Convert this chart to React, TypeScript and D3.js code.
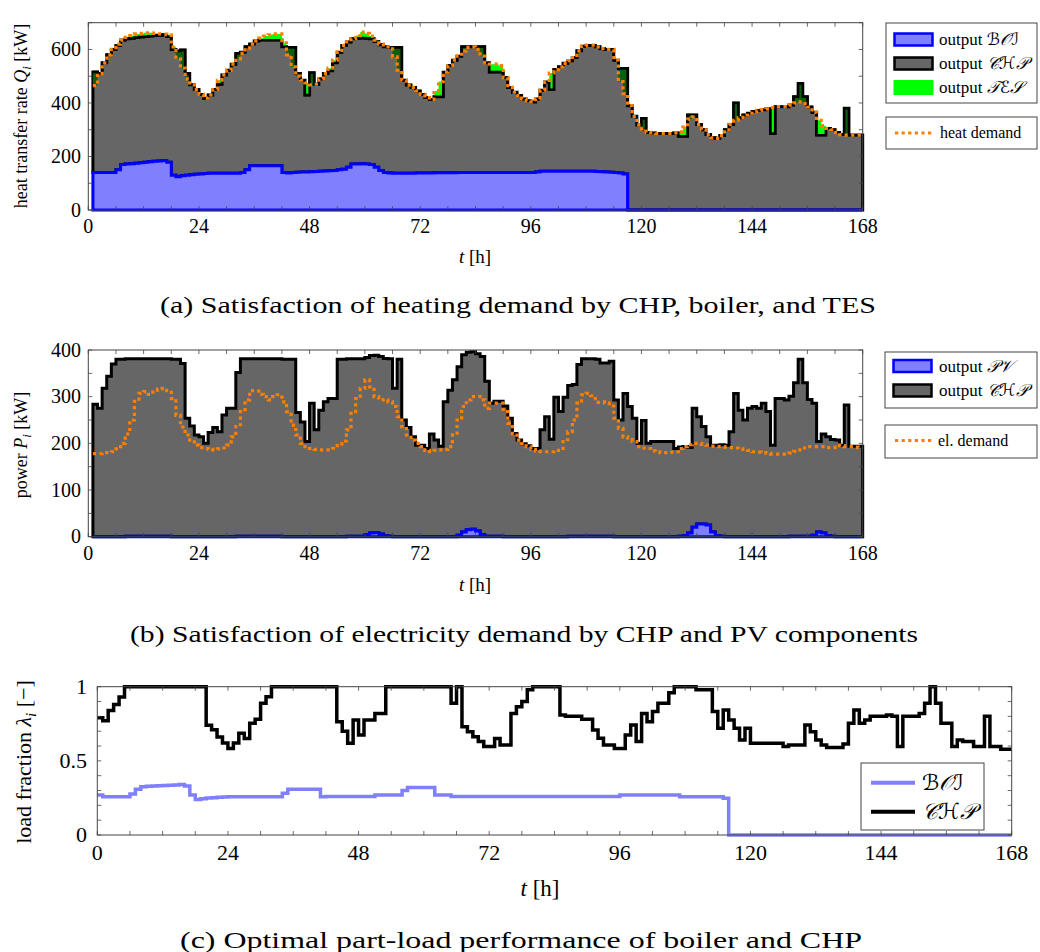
import React from 'react';
import * as d3 from 'd3';

// ---------------- DATA ----------------
// Panels (a) and (b): hourly values for the intervals starting at t = 1 … 167 h
const heatDemand = [
  465, 510, 550, 580, 600, 620, 635, 645, 652, 658, 660, 662, 662, 660, 658, 657, 655, 610, 565, 530,
  490, 468, 450, 432, 418, 430, 450, 485, 505, 522, 545, 565, 585, 605, 620, 632, 642, 650, 655, 658,
  658, 625, 580, 535, 500, 485, 475, 468, 470, 490, 510, 530, 560, 590, 615, 628, 640, 652, 665, 660,
  650, 635, 620, 610, 610, 572, 523, 485, 467, 458, 445, 432, 420, 413, 445, 480, 515, 540, 560, 575,
  595, 608, 610, 600, 575, 550, 545, 545, 540, 495, 458, 440, 428, 415, 408, 404, 415, 448, 478, 512,
  525, 535, 548, 558, 570, 595, 612, 616, 616, 610, 603, 600, 600, 560, 480, 435, 390, 350, 318, 295,
  290, 288, 286, 286, 286, 286, 288, 292, 310, 340, 348, 320, 300, 282, 270, 268, 278, 300, 320, 335,
  345, 355, 362, 368, 372, 375, 378, 383, 386, 386, 386, 392, 400, 404, 398, 385, 365, 335, 315, 305,
  300, 290, 282, 280, 280, 280, 280,
];
const boilerHeat = [
  140, 140, 140, 140, 140, 150, 170, 172, 173, 175, 177, 178, 180, 182, 183, 185, 178, 130, 124, 128,
  130, 132, 134, 135, 136, 137, 137, 137, 137, 137, 137, 137, 140, 150, 165, 165, 165, 165, 165, 165,
  165, 140, 138, 140, 141, 142, 142, 143, 144, 145, 146, 147, 148, 150, 152, 160, 172, 172, 173, 172,
  170, 160, 148, 140, 138, 137, 137, 137, 137, 137, 138, 138, 138, 138, 139, 139, 139, 139, 139, 140,
  140, 140, 140, 140, 140, 140, 140, 140, 140, 140, 140, 140, 140, 140, 140, 140, 142, 145, 145, 145,
  145, 145, 145, 145, 145, 145, 145, 145, 145, 144, 143, 142, 141, 140, 138, 135, 0, 0, 0, 0,
  0, 0, 0, 0, 0, 0, 0, 0, 0, 0, 0, 0, 0, 0, 0, 0, 0, 0, 0, 0,
  0, 0, 0, 0, 0, 0, 0, 0, 0, 0, 0, 0, 0, 0, 0, 0, 0, 0, 0, 0,
  0, 0, 0, 0, 0, 0, 0,
];
const chpHeat = [
  376, 370, 410, 440, 460, 465, 465, 468, 469, 470, 470, 470, 470, 470, 470, 470, 470, 470, 470, 470,
  380, 336, 316, 297, 282, 293, 313, 333, 368, 385, 408, 448, 450, 460, 455, 467, 470, 470, 470, 470,
  470, 470, 469, 467, 369, 343, 288, 370, 326, 345, 364, 373, 402, 440, 463, 468, 468, 470, 470, 470,
  470, 470, 470, 470, 469, 470, 470, 348, 330, 321, 307, 294, 282, 275, 284, 284, 376, 401, 421, 435,
  470, 470, 470, 470, 470, 410, 376, 376, 376, 355, 318, 300, 288, 275, 268, 264, 273, 303, 333, 305,
  380, 390, 403, 413, 425, 450, 467, 470, 470, 466, 460, 458, 459, 420, 391, 394, 390, 350, 318, 342,
  290, 288, 286, 286, 286, 286, 288, 276, 276, 355, 355, 320, 300, 282, 270, 268, 278, 300, 320, 400,
  345, 355, 362, 368, 372, 375, 378, 286, 386, 386, 386, 392, 423, 473, 423, 385, 365, 280, 280, 305,
  300, 290, 282, 380, 280, 280, 280,
];
const elDemand = [
  178, 178, 180, 180, 182, 188, 200, 220, 250, 290, 307, 311, 305, 310, 316, 318, 313, 296, 260, 235,
  218, 207, 196, 191, 189, 187, 186, 188, 190, 196, 214, 236, 268, 293, 313, 312, 305, 300, 293, 300,
  304, 289, 268, 239, 218, 200, 193, 189, 187, 186, 186, 186, 189, 195, 205, 229, 268, 296, 318, 336,
  321, 300, 293, 294, 289, 279, 257, 236, 218, 207, 200, 193, 185, 182, 185, 186, 187, 193, 218, 250,
  279, 293, 300, 300, 293, 275, 286, 286, 286, 268, 243, 221, 207, 200, 193, 187, 184, 182, 182, 182,
  185, 189, 204, 225, 250, 286, 304, 307, 302, 288, 289, 286, 280, 254, 232, 214, 208, 204, 193, 190,
  189, 184, 182, 180, 180, 181, 182, 189, 193, 197, 200, 200, 198, 196, 194, 193, 193, 192, 191, 190,
  188, 187, 185, 182, 181, 180, 179, 177, 177, 177, 177, 179, 183, 186, 190, 193, 193, 193, 193, 191,
  191, 196, 195, 193, 193, 192, 191,
];
const pvPower = [
  0, 0, 0, 0, 0, 0, 0, 1, 1, 1, 1, 1, 1, 1, 1, 1, 1, 0, 0, 0,
  0, 0, 0, 0, 0, 0, 0, 0, 0, 0, 0, 1, 1, 1, 1, 1, 1, 1, 1, 1,
  1, 0, 0, 0, 0, 0, 0, 0, 0, 0, 0, 0, 0, 0, 0, 1, 1, 1, 1, 4,
  8, 9, 6, 2, 1, 0, 0, 0, 0, 0, 0, 0, 0, 0, 0, 0, 0, 0, 0, 3,
  10, 15, 16, 12, 4, 1, 1, 1, 1, 0, 0, 0, 0, 0, 0, 0, 0, 0, 0, 0,
  0, 0, 0, 1, 1, 1, 1, 1, 1, 1, 1, 1, 1, 0, 0, 0, 0, 0, 0, 0,
  0, 0, 0, 0, 0, 0, 0, 1, 2, 8, 20, 27, 27, 25, 10, 2, 1, 0, 0, 0,
  0, 0, 0, 0, 0, 0, 0, 0, 0, 0, 0, 1, 1, 1, 1, 1, 3, 10, 8, 2,
  1, 0, 0, 0, 0, 0, 0,
];
const chpPower = [
  284, 275, 318, 344, 370, 380, 380, 380, 380, 380, 380, 380, 380, 380, 380, 380, 380, 380, 380, 371,
  254, 237, 218, 214, 200, 223, 234, 225, 261, 275, 275, 351, 380, 380, 380, 380, 380, 380, 380, 380,
  380, 380, 380, 380, 266, 246, 204, 286, 229, 271, 289, 296, 296, 380, 380, 380, 380, 380, 380, 380,
  380, 380, 380, 380, 380, 318, 380, 250, 234, 214, 196, 196, 189, 220, 207, 194, 289, 314, 336, 361,
  380, 380, 380, 380, 382, 332, 285, 289, 289, 280, 254, 221, 207, 199, 195, 189, 189, 229, 257, 209,
  299, 268, 299, 323, 325, 368, 380, 380, 380, 379, 371, 371, 375, 293, 250, 307, 279, 254, 200, 249,
  200, 204, 204, 204, 204, 204, 189, 191, 191, 183, 255, 230, 209, 189, 186, 194, 196, 196, 225, 307,
  271, 250, 275, 279, 275, 286, 268, 196, 296, 296, 293, 300, 329, 379, 329, 293, 283, 194, 212, 212,
  207, 207, 196, 282, 194, 194, 194,
];
// Panel (c): hourly load fractions for the intervals starting at t = 0 … 167 h
const boiLoad = [
  0.27, 0.258, 0.258, 0.258, 0.258, 0.258, 0.276, 0.308, 0.326, 0.328, 0.33, 0.332, 0.334, 0.336, 0.338, 0.341, 0.33, 0.27, 0.24, 0.245,
  0.25, 0.252, 0.255, 0.257, 0.258, 0.258, 0.258, 0.258, 0.258, 0.258, 0.258, 0.258, 0.258, 0.258, 0.281, 0.308, 0.308, 0.308, 0.308, 0.308,
  0.308, 0.258, 0.26, 0.26, 0.26, 0.26, 0.26, 0.26, 0.26, 0.26, 0.26, 0.27, 0.27, 0.27, 0.27, 0.27, 0.3, 0.32, 0.32, 0.32,
  0.32, 0.32, 0.27, 0.27, 0.27, 0.26, 0.26, 0.26, 0.26, 0.26, 0.26, 0.26, 0.26, 0.26, 0.26, 0.26, 0.26, 0.26, 0.26, 0.26,
  0.26, 0.26, 0.26, 0.26, 0.26, 0.26, 0.26, 0.26, 0.26, 0.26, 0.26, 0.26, 0.26, 0.26, 0.26, 0.26, 0.27, 0.27, 0.27, 0.27,
  0.27, 0.27, 0.27, 0.27, 0.27, 0.27, 0.27, 0.258, 0.258, 0.258, 0.258, 0.258, 0.258, 0.258, 0.258, 0.247, 0, 0, 0, 0,
  0, 0, 0, 0, 0, 0, 0, 0, 0, 0, 0, 0, 0, 0, 0, 0, 0, 0, 0, 0,
  0, 0, 0, 0, 0, 0, 0, 0, 0, 0, 0, 0, 0, 0, 0, 0, 0, 0, 0, 0,
  0, 0, 0, 0, 0, 0, 0, 0,
];
const chpLoad = [
  0.79, 0.77, 0.84, 0.88, 0.93, 1, 1, 1, 1, 1, 1, 1, 1, 1, 1, 1, 1, 1, 1, 1,
  0.74, 0.71, 0.66, 0.62, 0.584, 0.62, 0.686, 0.65, 0.753, 0.78, 0.888, 0.933, 1, 1, 1, 1, 1, 1, 1, 1,
  1, 1, 1, 1, 0.764, 0.7, 0.618, 0.775, 0.674, 0.775, 0.775, 0.82, 0.82, 1, 1, 1, 1, 1, 1, 1,
  1, 1, 1, 1, 1, 0.888, 1, 0.73, 0.697, 0.663, 0.63, 0.596, 0.596, 0.65, 0.607, 0.607, 0.82, 0.865, 0.9, 0.98,
  1, 1, 1, 1, 1, 0.81, 0.8, 0.8, 0.8, 0.78, 0.78, 0.708, 0.652, 0.607, 0.607, 0.584, 0.584, 0.674, 0.742, 0.63,
  0.82, 0.764, 0.832, 0.888, 0.888, 0.96, 1, 1, 1, 1, 0.98, 0.98, 0.98, 0.832, 0.72, 0.843, 0.775, 0.72, 0.64, 0.72,
  0.618, 0.618, 0.618, 0.618, 0.618, 0.618, 0.596, 0.607, 0.607, 0.607, 0.742, 0.697, 0.64, 0.607, 0.59, 0.59, 0.59, 0.614, 0.753, 0.843,
  0.753, 0.775, 0.8, 0.8, 0.8, 0.81, 0.8, 0.596, 0.8, 0.8, 0.8, 0.82, 0.888, 1, 0.888, 0.753, 0.753, 0.596, 0.64, 0.63,
  0.63, 0.596, 0.596, 0.8, 0.596, 0.596, 0.578, 0.578,
];

const xTicksMinor = d3.range(0, 169, 6);
const xTickLabels = [0, 24, 48, 72, 96, 120, 144, 168];
const yTicksA = d3.range(0, 701, 100);
const yLabelsA = [0, 200, 400, 600];
const yTicksB = d3.range(0, 401, 50);
const yLabelsB = [0, 100, 200, 300, 400];
const yTicksC = d3.range(0, 11).map((d) => d / 10);
const yLabelsC = [0, 0.5, 1];

// ---------------- STYLE ----------------
const FONT = "'Liberation Serif', 'Times New Roman', serif";
const MATH = "'DejaVu Serif', 'DejaVu Sans', 'Liberation Serif', serif";
const C_BOI_FILL = '#8080ff';
const C_BLUE = '#0000ff';
const C_CHP = '#666666';
const C_TES = '#00ff00';
const C_TES_DARK = '#0c5f0c';
const C_ORANGE = '#ff8000';
const C_AXIS = '#444';

type Pt = [number, number];
const stepPts = (vals: number[], start: number): Pt[] => {
  const p: Pt[] = vals.map((v, i) => [start + i, v]);
  p.push([start + vals.length, vals[vals.length - 1]]);
  return p;
};

function Axes({ x, y, xt, yt, ylab, yfmt, fs, labelDy, yLabelX }: any) {
  const [x0, x1] = x.range();
  const [yb, yt0] = y.range();
  const tl = 4;
  return (
    <g>
      {xt.map((t: number) => (
        <g key={'x' + t}>
          <line x1={x(t)} x2={x(t)} y1={yb} y2={yb - tl} stroke={C_AXIS} strokeWidth={0.8} />
          <line x1={x(t)} x2={x(t)} y1={yt0} y2={yt0 + tl} stroke={C_AXIS} strokeWidth={0.8} />
        </g>
      ))}
      {yt.map((t: number) => (
        <g key={'y' + t}>
          <line x1={x0} x2={x0 + tl} y1={y(t)} y2={y(t)} stroke={C_AXIS} strokeWidth={0.8} />
          <line x1={x1} x2={x1 - tl} y1={y(t)} y2={y(t)} stroke={C_AXIS} strokeWidth={0.8} />
        </g>
      ))}
      <rect x={x0} y={yt0} width={x1 - x0} height={yb - yt0} fill="none" stroke={C_AXIS} strokeWidth={1} />
      {xTickLabels.map((t) => (
        <text key={'xl' + t} x={x(t)} y={yb + labelDy} textAnchor="middle" fontSize={fs} fontFamily={FONT}>
          {t}
        </text>
      ))}
      {ylab.map((t: number) => (
        <text key={'yl' + t} x={yLabelX} y={y(t) + fs * 0.33} textAnchor="end" fontSize={fs} fontFamily={FONT}>
          {yfmt(t)}
        </text>
      ))}
    </g>
  );
}

export default function App() {
  // scales
  const xA = d3.scaleLinear().domain([0, 168]).range([88.3, 862.7]);
  const yA = d3.scaleLinear().domain([0, 700]).range([210, 22.7]);
  const yB = d3.scaleLinear().domain([0, 400]).range([536.7, 350]);
  const xC = d3.scaleLinear().domain([0, 168]).range([97.3, 1011.7]);
  const yC = d3.scaleLinear().domain([0, 1]).range([835, 686.7]);

  // panel (a) stacks
  const chpTop = boilerHeat.map((b, i) => b + chpHeat[i]);
  const rows = heatDemand.map((d, i) => ({ d, b: boilerHeat[i], c: chpTop[i] }));
  const rowPts = (r: any[], start: number) => {
    const p = r.map((v, i) => ({ t: start + i, ...v }));
    p.push({ ...p[p.length - 1], t: start + r.length });
    return p;
  };
  const ra = rowPts(rows, 1);
  const areaA = (lo: (r: any) => number, hi: (r: any) => number) =>
    d3.area<any>().curve(d3.curveStepAfter).x((r) => xA(r.t)).y0((r) => yA(lo(r))).y1((r) => yA(hi(r)))(ra) as string;
  const lineA = (f: (r: any) => number) =>
    d3.line<any>().curve(d3.curveStepAfter).x((r) => xA(r.t)).y((r) => yA(f(r)))(ra) as string;

  const chpAreaA = areaA((r) => r.b, (r) => r.c);
  const boiAreaA = areaA(() => 0, (r) => r.b);
  // TES covers the gap between the CHP+boiler stack and the heat demand
  const tesDis = areaA((r) => r.c, (r) => Math.max(r.c, r.d));
  const tesChg = areaA((r) => r.d, (r) => Math.max(r.c, r.d));
  const chpLineA = lineA((r) => r.c);
  const demLineA = lineA((r) => r.d);

  // panel (b)
  const rowsB = elDemand.map((d, i) => ({ d, p: pvPower[i], c: pvPower[i] + chpPower[i] }));
  const rb = rowPts(rowsB, 1);
  const areaB = (lo: (r: any) => number, hi: (r: any) => number) =>
    d3.area<any>().curve(d3.curveStepAfter).x((r) => xA(r.t)).y0((r) => yB(lo(r))).y1((r) => yB(hi(r)))(rb) as string;
  const lineB = (f: (r: any) => number) =>
    d3.line<any>().curve(d3.curveStepAfter).x((r) => xA(r.t)).y((r) => yB(f(r)))(rb) as string;
  const chpAreaB = areaB((r) => r.p, (r) => r.c);
  const pvAreaB = areaB(() => 0, (r) => r.p);
  const demLineB = lineB((r) => r.d);

  // panel (c)
  const lineC = d3.line<Pt>().curve(d3.curveStepAfter).x((p) => xC(p[0])).y((p) => yC(p[1]));
  const boiLineC = lineC(stepPts(boiLoad, 0)) as string;
  const chpLineC = lineC(stepPts(chpLoad, 0)) as string;

  const dotted = { stroke: C_ORANGE, strokeWidth: 3.2, strokeDasharray: '3.2 3.4', fill: 'none' };

  return (
    <svg width={1040} height={952} style={{ position: 'absolute', left: 0, top: 0, background: '#fff' }} fontFamily={FONT}>
      <rect x={0} y={0} width={1040} height={952} fill="#fff" />
      {/* ---------- panel (a) ---------- */}
      <path d={chpAreaA} fill={C_CHP} stroke="#000" strokeWidth={3} strokeLinejoin="miter" />
      <path d={tesDis} fill={C_TES} stroke="none" />
      <path d={tesChg} fill={C_TES_DARK} stroke="none" />
      <path d={chpLineA} fill="none" stroke="#000" strokeWidth={2.4} />
      <path d={boiAreaA} fill={C_BOI_FILL} stroke={C_BLUE} strokeWidth={3} />
      <path d={demLineA} {...dotted} />
      <Axes x={xA} y={yA} xt={xTicksMinor} yt={yTicksA} ylab={yLabelsA} yfmt={(t: number) => String(t)} fs={20} labelDy={23} yLabelX={81} />
      <text x={475} y={263} textAnchor="middle" fontSize={19} fontFamily={FONT}>
        <tspan fontStyle="italic">t</tspan> [h]
      </text>
      <text transform="translate(27,116) rotate(-90)" textAnchor="middle" fontSize={18} fontFamily={FONT}>
        heat transfer rate <tspan fontStyle="italic">Q</tspan>
        <tspan fontStyle="italic" fontSize={13} dy={4}>i</tspan>
        <tspan dy={-4}> [kW]</tspan>
      </text>
      <text x={160} y={313} fontSize={23} fontFamily={FONT} textLength={716} lengthAdjust="spacingAndGlyphs">
        (a) Satisfaction of heating demand by CHP, boiler, and TES
      </text>
      {/* legend (a) */}
      <rect x={886} y={23} width={151} height={80} fill="#fff" stroke={C_AXIS} strokeWidth={1} />
      <rect x={894.5} y={33.5} width={38} height={12} fill={C_BOI_FILL} stroke={C_BLUE} strokeWidth={2.5} />
      <rect x={894.5} y={57.5} width={38} height={12} fill={C_CHP} stroke="#000" strokeWidth={2.5} />
      <rect x={893.5} y={80} width={40} height={15} fill={C_TES} />
      <text x={939} y={45} fontSize={17} fontFamily={FONT}>output <tspan fontFamily={MATH} fontStyle="italic">ℬ𝒪ℐ</tspan></text>
      <text x={939} y={69} fontSize={17} fontFamily={FONT}>output <tspan fontFamily={MATH} fontStyle="italic">𝒞ℋ𝒫</tspan></text>
      <text x={939} y={93} fontSize={17} fontFamily={FONT}>output <tspan fontFamily={MATH} fontStyle="italic">𝒯ℰ𝒮</tspan></text>
      <rect x={886} y={117} width={151} height={32} fill="#fff" stroke={C_AXIS} strokeWidth={1} />
      <line x1={895} x2={933} y1={133} y2={133} {...dotted} />
      <text x={940} y={138} fontSize={16} fontFamily={FONT}>heat demand</text>

      {/* ---------- panel (b) ---------- */}
      <path d={chpAreaB} fill={C_CHP} stroke="#000" strokeWidth={3} />
      <path d={pvAreaB} fill={C_BOI_FILL} stroke={C_BLUE} strokeWidth={3} />
      <path d={demLineB} {...dotted} />
      <Axes x={xA} y={yB} xt={xTicksMinor} yt={yTicksB} ylab={yLabelsB} yfmt={(t: number) => String(t)} fs={20} labelDy={23} yLabelX={81} />
      <text x={475} y={591} textAnchor="middle" fontSize={19} fontFamily={FONT}>
        <tspan fontStyle="italic">t</tspan> [h]
      </text>
      <text transform="translate(27,445) rotate(-90)" textAnchor="middle" fontSize={18} fontFamily={FONT}>
        power <tspan fontStyle="italic">P</tspan>
        <tspan fontStyle="italic" fontSize={13} dy={4}>i</tspan>
        <tspan dy={-4}> [kW]</tspan>
      </text>
      <text x={130} y={642} fontSize={23} fontFamily={FONT} textLength={788} lengthAdjust="spacingAndGlyphs">
        (b) Satisfaction of electricity demand by CHP and PV components
      </text>
      <rect x={885} y={352} width={152} height={56} fill="#fff" stroke={C_AXIS} strokeWidth={1} />
      <rect x={893.5} y={360} width={38} height={12} fill={C_BOI_FILL} stroke={C_BLUE} strokeWidth={2.5} />
      <rect x={893.5} y={384.5} width={38} height={12} fill={C_CHP} stroke="#000" strokeWidth={2.5} />
      <text x={939} y={372} fontSize={17} fontFamily={FONT}>output <tspan fontFamily={MATH} fontStyle="italic">𝒫𝒱</tspan></text>
      <text x={939} y={396} fontSize={17} fontFamily={FONT}>output <tspan fontFamily={MATH} fontStyle="italic">𝒞ℋ𝒫</tspan></text>
      <rect x={885} y={425} width={152} height={33} fill="#fff" stroke={C_AXIS} strokeWidth={1} />
      <line x1={895} x2={932} y1={440.5} y2={440.5} {...dotted} />
      <text x={938} y={446} fontSize={16} fontFamily={FONT}>el. demand</text>

      {/* ---------- panel (c) ---------- */}
      <path d={boiLineC} fill="none" stroke={C_BOI_FILL} strokeWidth={3.5} />
      <path d={chpLineC} fill="none" stroke="#000" strokeWidth={3.5} />
      <Axes x={xC} y={yC} xt={xTicksMinor} yt={yTicksC} ylab={yLabelsC} yfmt={(t: number) => String(t)} fs={22} labelDy={25} yLabelX={87} />
      <text x={540} y={896} textAnchor="middle" fontSize={23} fontFamily={FONT}>
        <tspan fontStyle="italic">t</tspan> [h]
      </text>
      <text transform="translate(31,762) rotate(-90)" textAnchor="middle" fontSize={22} fontFamily={FONT}>
        load fraction <tspan fontStyle="italic">λ</tspan>
        <tspan fontStyle="italic" fontSize={15} dy={5}>i</tspan>
        <tspan dy={-5}> [−]</tspan>
      </text>
      <text x={180} y={948} fontSize={23} fontFamily={FONT} textLength={682} lengthAdjust="spacingAndGlyphs">
        (c) Optimal part-load performance of boiler and CHP
      </text>
      <rect x={861} y={763} width={123} height={67} fill="#fff" stroke={C_AXIS} strokeWidth={1} />
      <line x1={871} x2={915} y1={782.7} y2={782.7} stroke={C_BOI_FILL} strokeWidth={4} />
      <line x1={871} x2={915} y1={811.7} y2={811.7} stroke="#000" strokeWidth={4} />
      <text x={922} y={790} fontSize={22} fontFamily={MATH} fontStyle="italic">ℬ𝒪ℐ</text>
      <text x={922} y={819} fontSize={22} fontFamily={MATH} fontStyle="italic">𝒞ℋ𝒫</text>
    </svg>
  );
}
